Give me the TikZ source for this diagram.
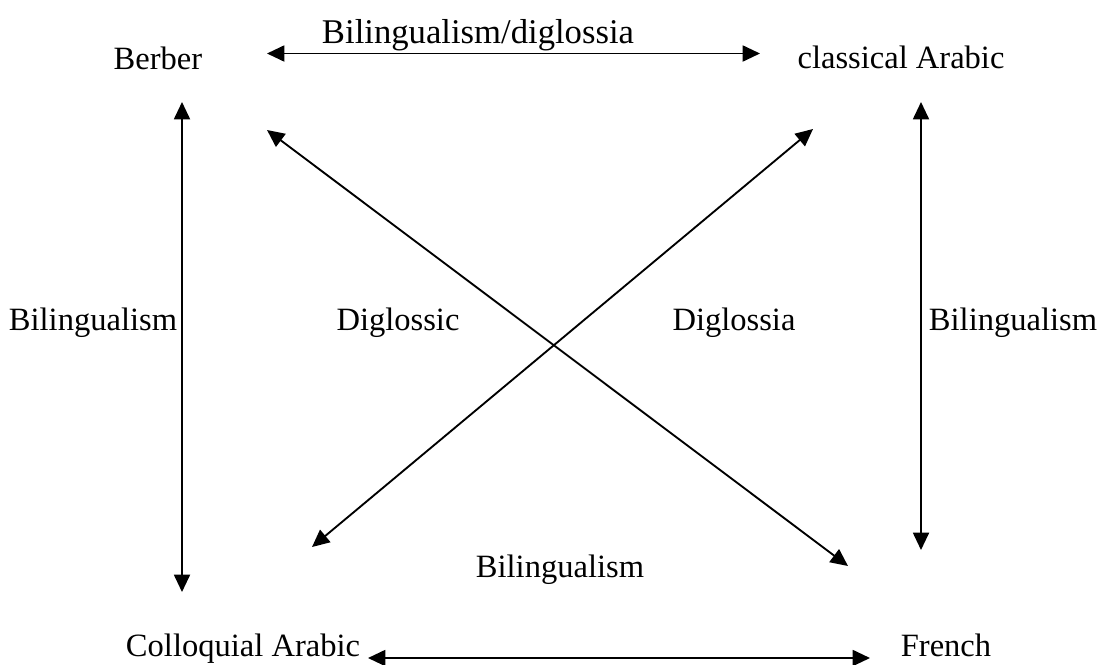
\documentclass[tikz,border=0pt]{standalone}
\usepackage{fontspec}
\setmainfont{Liberation Serif}
\usetikzlibrary{arrows.meta}
\begin{document}
\begin{tikzpicture}[x=0.75pt,y=-0.75pt,
  lbl/.style={anchor=base,inner sep=0pt,font=\fontsize{24.4pt}{29pt}\selectfont},
  link/.style={line width=1.4pt,{Triangle[length=13pt,width=12pt]}-{Triangle[length=13pt,width=12pt]}}]
\useasboundingbox (0,0) rectangle (1099,664);

% languages
\node[lbl] (berber) at (158,69) {Berber};
\node[lbl] (classical) at (901,68) {classical Arabic};
\node[lbl] (colloquial) at (243,656) {Colloquial Arabic};
\node[lbl] (french) at (946,656) {French};

% relation labels
\node[lbl,font=\fontsize{26pt}{30pt}\selectfont] (topl) at (478,43) {Bilingualism/diglossia};
\node[lbl] (leftl) at (93,330) {Bilingualism};
\node[lbl] (diglossic) at (398,330) {Diglossic};
\node[lbl] (diglossia) at (734,330) {Diglossia};
\node[lbl] (rightl) at (1013,330) {Bilingualism};
\node[lbl] (bottoml) at (560,577) {Bilingualism};

% arrow end points around each language
\coordinate (b-e) at (267,53.5);
\coordinate (b-s) at (182,102);
\coordinate (b-se) at (267,130);
\coordinate (c-w) at (760,53.5);
\coordinate (c-s) at (921,102);
\coordinate (c-sw) at (813,129);
\coordinate (q-n) at (182,592);
\coordinate (q-ne) at (312,547);
\coordinate (q-e) at (368,658);
\coordinate (f-n) at (921,550);
\coordinate (f-nw) at (848,566);
\coordinate (f-w) at (870,658);

\draw[link] (b-e) -- (c-w);
\draw[link] (b-s) -- (q-n);
\draw[link] (c-s) -- (f-n);
\draw[link] (b-se) -- (f-nw);
\draw[link] (c-sw) -- (q-ne);
\draw[link] (q-e) -- (f-w);
\end{tikzpicture}
\end{document}
